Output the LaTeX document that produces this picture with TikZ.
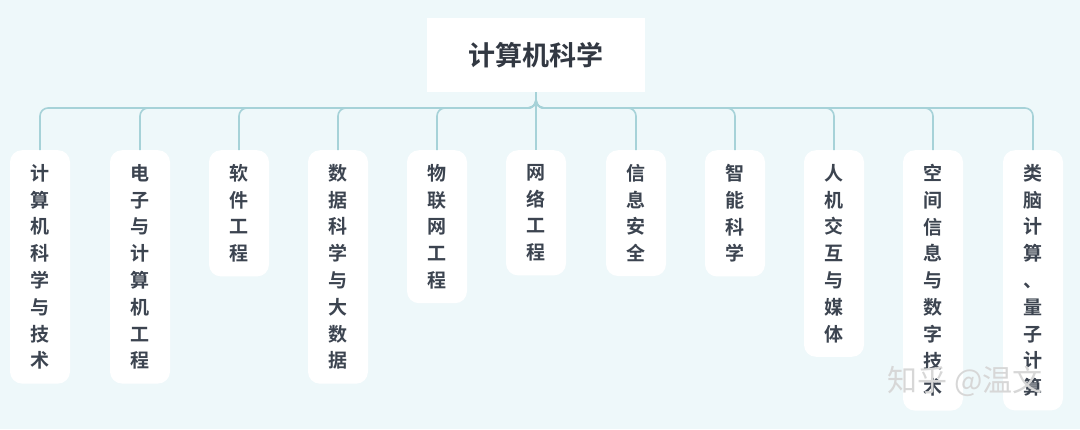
\documentclass[tikz,border=0pt]{standalone}
\usepackage{fontspec}
\newfontfamily\cjk{Noto Sans CJK SC}[BoldFont={Noto Sans CJK SC Bold}]
\definecolor{bgc}{RGB}{238,248,250}
\definecolor{linec}{RGB}{166,210,216}
\definecolor{leaftxt}{RGB}{60,68,80}
\definecolor{roottxt}{RGB}{50,56,66}
\definecolor{wmc}{RGB}{215,215,215}
\begin{document}
\begin{tikzpicture}[x=1pt,y=-1pt,
  conn/.style={draw=linec,line width=1.6pt,rounded corners=8pt},
  leaf/.style={fill=white,rounded corners=12pt,minimum width=60pt,inner xsep=4pt,inner ysep=14pt,anchor=north,
    align=center,font=\cjk\bfseries\fontsize{19}{26.8}\selectfont,text=leaftxt},
  root/.style={fill=white,minimum width=218pt,minimum height=74pt,font=\cjk\bfseries\fontsize{27}{30}\selectfont,
    text=roottxt}]
\fill[bgc] (0,0) rectangle (1080,429);
\useasboundingbox (0,0) rectangle (1080,429);
\node[root] (root) at (536,55) {计算机科学};
\coordinate (hub) at (536,108);
\foreach \n/\x/\t in {1/40/计\\算\\机\\科\\学\\与\\技\\术,
  2/140/电\\子\\与\\计\\算\\机\\工\\程,
  3/239/软\\件\\工\\程,
  4/338/数\\据\\科\\学\\与\\大\\数\\据,
  5/437/物\\联\\网\\工\\程,
  6/536/网\\络\\工\\程,
  7/636/信\\息\\安\\全,
  8/735/智\\能\\科\\学,
  9/834/人\\机\\交\\互\\与\\媒\\体,
  10/933/空\\间\\信\\息\\与\\数\\字\\技\\术,
  11/1033/类\\脑\\计\\算\\、\\量\\子\\计\\算}{
  \node[leaf] (c\n) at (\x,150) {\t};
  \draw[conn] (root.south) -- (hub) -| (c\n.north);
}
\node[font=\cjk\fontsize{30}{32}\selectfont,text=wmc,anchor=center] (wm) at (965,381) {知乎 @温文};
\end{tikzpicture}
\end{document}
